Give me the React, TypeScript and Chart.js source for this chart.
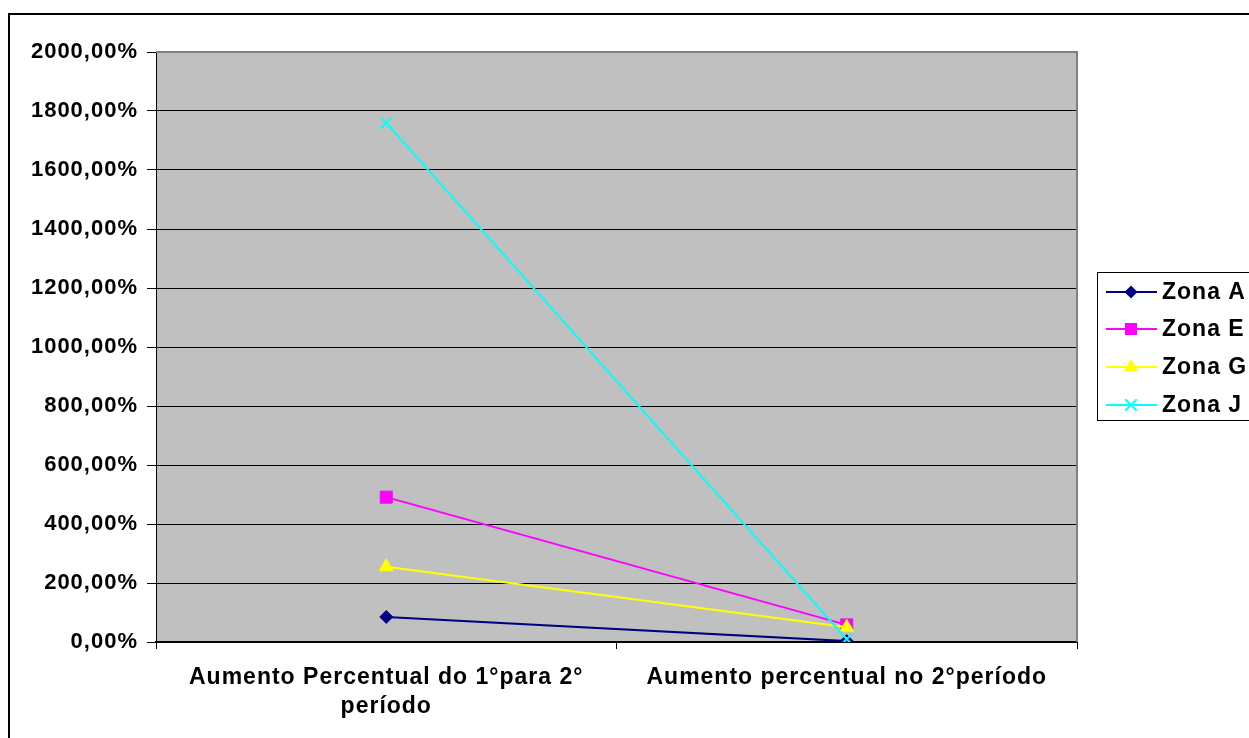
import React, { useEffect, useRef } from "react";
import { Chart, registerables } from "chart.js";

Chart.register(...registerables);

const categories: (string | string[])[] = [
  ["Aumento Percentual do 1°para 2°", "período"],
  "Aumento percentual no 2°período",
];
const seriesNames = ["Zona A", "Zona E", "Zona G", "Zona J"];
const zonaA = [85, 3];
const zonaE = [491, 58];
const zonaG = [255, 50];
const zonaJ = [1760, 10];
const yTicks = { min: 0, max: 2000, step: 200 };

const colors = ["#000080", "#FF00FF", "#FFFF00", "#00FFFF"];
const pointStyles = ["rectRot", "rect", "triangle", "crossRot"];
const pointRadii = [6.5, 8.5, 8, 8];

const FONT = "'Liberation Sans', Arial, sans-serif";

function drawMarker(ctx: CanvasRenderingContext2D, style: string, x: number, y: number, r: number, color: string) {
  ctx.save();
  ctx.fillStyle = color;
  ctx.strokeStyle = color;
  ctx.lineWidth = 2;
  ctx.beginPath();
  if (style === "rectRot") {
    ctx.moveTo(x, y - r);
    ctx.lineTo(x + r, y);
    ctx.lineTo(x, y + r);
    ctx.lineTo(x - r, y);
    ctx.closePath();
    ctx.fill();
  } else if (style === "rect") {
    const s = r * Math.SQRT1_2;
    ctx.rect(x - s, y - s, 2 * s, 2 * s);
    ctx.fill();
  } else if (style === "triangle") {
    const h = r * 1.5;
    const half = (r * Math.sqrt(3)) / 2;
    ctx.moveTo(x, y - h * 0.66);
    ctx.lineTo(x + half, y + h * 0.34);
    ctx.lineTo(x - half, y + h * 0.34);
    ctx.closePath();
    ctx.fill();
  } else {
    const d = r * Math.SQRT1_2;
    ctx.moveTo(x - d, y - d);
    ctx.lineTo(x + d, y + d);
    ctx.moveTo(x + d, y - d);
    ctx.lineTo(x - d, y + d);
    ctx.stroke();
  }
  ctx.restore();
}

const bgPlugin = {
  id: "bgPlugin",
  beforeDraw(chart: any) {
    const { ctx, chartArea } = chart;
    ctx.save();
    ctx.fillStyle = "#FFFFFF";
    ctx.fillRect(0, 0, chart.width, chart.height);
    ctx.fillStyle = "#C0C0C0";
    ctx.fillRect(chartArea.left, chartArea.top, chartArea.right - chartArea.left, chartArea.bottom - chartArea.top);
    ctx.restore();
    (ctx as any).letterSpacing = "1px";
  },
  beforeDatasetsDraw(chart: any) {
    const { ctx, chartArea } = chart;
    ctx.save();
    ctx.strokeStyle = "#808080";
    ctx.lineWidth = 2;
    ctx.beginPath();
    ctx.moveTo(chartArea.left, chartArea.top);
    ctx.lineTo(chartArea.right, chartArea.top);
    ctx.lineTo(chartArea.right, chartArea.bottom);
    ctx.stroke();
    ctx.restore();
  },
  afterDraw(chart: any) {
    const { ctx } = chart;
    ctx.save();
    // outer border
    ctx.strokeStyle = "#000000";
    ctx.lineWidth = 2;
    ctx.strokeRect(9, 14, 1400, 900);
    // legend box
    ctx.lineWidth = 1;
    ctx.strokeStyle = "#000000";
    ctx.fillStyle = "#FFFFFF";
    ctx.fillRect(1097.5, 272.5, 300, 148);
    ctx.strokeRect(1097.5, 272.5, 300, 148);
    const rows = [292, 329, 367, 405];
    chart.data.datasets.forEach((ds: any, i: number) => {
      const y = rows[i];
      ctx.strokeStyle = ds.borderColor;
      ctx.lineWidth = 2;
      ctx.beginPath();
      ctx.moveTo(1106, y);
      ctx.lineTo(1157, y);
      ctx.stroke();
      drawMarker(ctx, ds.pointStyle, 1131, y, ds.pointRadius, ds.borderColor);
      ctx.fillStyle = "#000000";
      ctx.font = `bold 23px ${FONT}`;
      (ctx as any).letterSpacing = "1px";
      ctx.textAlign = "left";
      ctx.textBaseline = "middle";
      ctx.fillText(ds.label, 1162, y + 1);
    });
    ctx.restore();
  },
};

export default function App() {
  const ref = useRef<HTMLCanvasElement | null>(null);
  useEffect(() => {
    if (!ref.current) return;
    const series = [zonaA, zonaE, zonaG, zonaJ];
    const chart = new Chart(ref.current, {
      type: "line",
      data: {
        labels: categories,
        datasets: series.map((d, i) => ({
          label: seriesNames[i],
          data: d,
          borderColor: colors[i],
          backgroundColor: colors[i],
          pointBackgroundColor: colors[i],
          pointBorderColor: colors[i],
          pointStyle: pointStyles[i] as any,
          pointRadius: pointRadii[i],
          pointBorderWidth: i === 3 ? 2 : 1,
          borderWidth: 2,
          tension: 0,
          order: 3 - i,
        })),
      },
      options: {
        animation: false,
        responsive: false,
        devicePixelRatio: 1,
        layout: { padding: { left: 0, top: 52, right: 172, bottom: 0 } },
        plugins: {
          legend: { display: false },
          tooltip: { enabled: false },
          title: { display: false },
        },
        scales: {
          x: {
            type: "category",
            offset: true,
            grid: {
              offset: true,
              drawOnChartArea: false,
              drawTicks: true,
              tickLength: 7,
              color: "#000000",
              lineWidth: 1,
            },
            border: { color: "#000000", width: 2 },
            ticks: {
              color: "#000000",
              font: { family: FONT, size: 23, weight: "bold", lineHeight: 1.26 },
              padding: 14,
              maxRotation: 0,
              minRotation: 0,
              autoSkip: false,
            },
            afterFit: (s: any) => {
              s.height = 96;
            },
          },
          y: {
            min: yTicks.min,
            max: yTicks.max,
            grid: {
              color: (c: any) => (c.tick && c.tick.value === yTicks.max ? "rgba(0,0,0,0)" : "#000000"),
              tickColor: "#000000",
              lineWidth: 1,
              tickLength: 9,
            },
            border: { color: "#000000", width: 1 },
            ticks: {
              stepSize: yTicks.step,
              color: "#000000",
              padding: 9,
              font: { family: FONT, size: 22, weight: "bold" },
              callback: (v: any) => Number(v).toFixed(2).replace(".", ",") + "%",
            },
            afterFit: (s: any) => {
              s.width = 156;
            },
          },
        },
      },
      plugins: [bgPlugin],
    });
    return () => chart.destroy();
  }, []);
  return (
    <div style={{ position: "fixed", left: 0, top: 0, width: 1249, height: 738, background: "#fff", overflow: "hidden" }}>
      <canvas ref={ref} width={1249} height={738} style={{ width: 1249, height: 738, display: "block" }} />
    </div>
  );
}
